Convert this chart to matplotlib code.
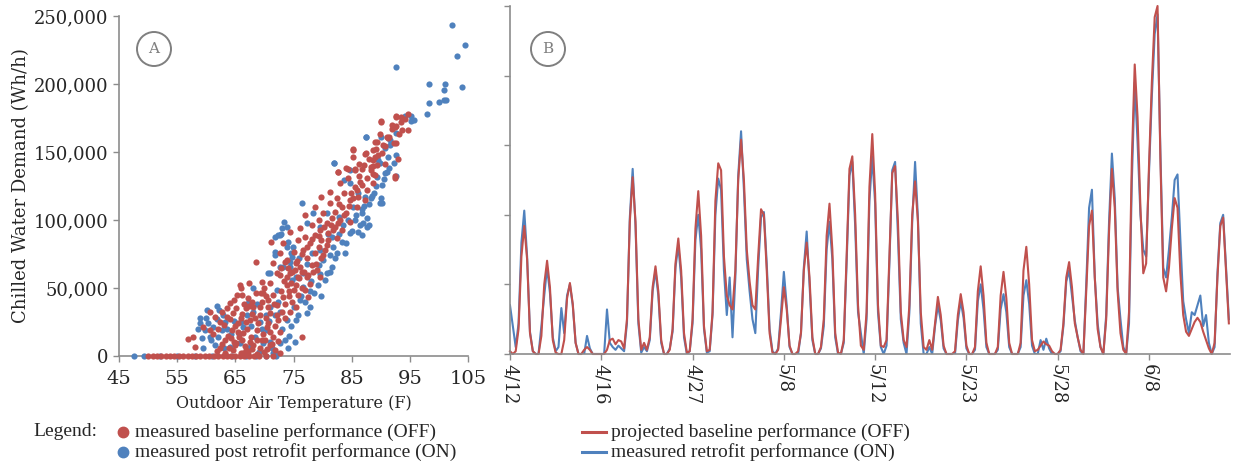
import numpy as np
import matplotlib
matplotlib.use("Agg")
import matplotlib.pyplot as plt
from matplotlib.lines import Line2D
from matplotlib.patches import Ellipse
from matplotlib.ticker import FuncFormatter

# ---------------- data ----------------
# panel A: (outdoor air temp F, chilled water demand in kWh/h)
red_pts = [
    # zero line
    (50, 0), (50.8, 0), (51.5, 0), (52.3, 0), (53, 0), (53.8, 0), (54.5, 0), (55.3, 0),
    (56, 0), (56.8, 0), (57.5, 0), (58.3, 0), (59, 0), (59.8, 0), (60.5, 0), (61.3, 0),
    (62, 0), (62.8, 0), (63.5, 0), (64.3, 0), (65, 0), (65.8, 0), (66.5, 0), (67.3, 0),
    (68.2, 0), (69, 0), (70.3, 0), (71.5, 0),
    # lower cluster
    (68.5, 69.3), (65.8, 52.2), (67.4, 53.9), (69.5, 54.6), (64.1, 38.8), (62.7, 32.6),
    (67.2, 42.4), (66.1, 44.9), (57.8, 14.2), (56.9, 12.2), (58.1, 6.4), (60.6, 19.1),
    (62.4, 25.2), (63.5, 28.9), (64.6, 31.3), (66.9, 35), (69.2, 36.3), (65.5, 24),
    (67.5, 26.5), (71, 31.3), (64.4, 19.1), (66.4, 16.6), (68.7, 19.1), (70.4, 21.6),
    (63.2, 11.8), (65.2, 9.3), (67.5, 10.5), (69.5, 11.8), (71.5, 14.2), (62.4, 5.6),
    (64.6, 4.4), (66.9, 4.4), (69.2, 5.6), (71.8, 4.4), (66.4, 2), (68.7, 1.5),
    (72.4, 26.5), (72.1, 37.5), (73.2, 43.6), (71.5, 44.9), (73.8, 52.2), (75, 48.5),
    (76.4, 14.2), (72.7, 17.9), (74.4, 32.6), (75.5, 36.3), (70.7, 41.2), (69.8, 46.1),
    (60.6, 32.6), (59.5, 21.6), (61.5, 28.9), (71, 53.4), (72.1, 60.8), (73.5, 69.3),
    (76.1, 65.7), (77.3, 58.3), (77, 48.5), (77.5, 43.6),
    (63.8, 15), (64.9, 22), (65.9, 28), (66.2, 12), (67, 20), (67.8, 31), (68.1, 8),
    (68.9, 24), (69.8, 16), (70.2, 28), (70.9, 8), (65.1, 35), (66.5, 38), (67.9, 40),
    (68.5, 46), (63.9, 6), (65.6, 14), (67.2, 3), (69.9, 3), (70.6, 36), (71.8, 22),
    (72.3, 11), (73, 32), (73.6, 38), (74.2, 44), (74.8, 40), (73.5, 28), (72.9, 48),
    (70, 50), (68, 36), (62, 20), (61.2, 16), (63, 23), (64, 27), (65.3, 45), (66, 50),
    (69.2, 30), (70.5, 5), (71, 18), (72.6, 2), (67.7, 14), (66.7, 7), (64.8, 10),
    (73.9, 58), (74.6, 54), (75.4, 52), (76, 57), (76.8, 62), (75.2, 63), (74, 65), (72.8, 65),
    (63.3, 2), (64.2, 13), (65.4, 18), (66.1, 31), (66.8, 25), (67.4, 37), (68.3, 28),
    (68.8, 12), (69.5, 40), (70.1, 12), (70.7, 24), (71.3, 9), (71.6, 38), (72.2, 30),
    (63.6, 35), (64.7, 41), (65, 8), (66, 2), (67.9, 5), (69.4, 46), (70.3, 44), (62.7, 9),
    (61.8, 4), (74.3, 48), (75.7, 45), (76.5, 50), (77.8, 53), (73.3, 55), (74.7, 62),
    # main band
    (92.7, 176.5), (90.0, 172.3), (92.4, 168.2), (91.0, 161.3), (89.3, 157.6), (92.2, 156.4),
    (85.3, 151.5), (87.5, 149), (90.2, 149), (88.7, 144), (89.3, 140.4), (84.1, 138),
    (82.7, 135.5), (85.6, 136.8), (87.1, 140.4), (88.4, 136.8), (89, 133), (92.4, 130.6),
    (84.4, 130.6), (86.4, 128.2), (88.7, 127), (83.0, 127), (85.6, 124.5), (87.6, 122),
    (81.3, 120.8), (83.6, 119.6), (86.1, 117.1), (79.8, 117.1), (82.4, 115.9), (84.7, 114.7),
    (87.3, 114.7), (81.3, 112.3), (78.7, 109.8), (83.3, 109.8), (85.9, 109.8), (82.1, 106.1),
    (80.1, 104.9), (84.1, 104.9), (77, 103.7), (81.6, 101.2), (83, 100), (79.3, 100),
    (84.7, 98.8), (80.7, 97.6), (78.1, 96.3), (82.1, 95.1), (79.6, 92.6), (83.3, 92.6),
    (76.1, 93.9), (74.4, 91.4), (81, 90.2), (78.7, 89), (77, 87.7), (79.8, 85.3),
    (75.8, 85.3), (82.4, 86.5), (77.8, 82.8), (73.2, 82.8), (79.3, 80.4), (80.7, 81.6),
    (71.2, 84), (76.7, 77.9), (75, 76.7), (78.7, 75.4), (72.7, 75.4), (80.1, 74.3),
    (77.3, 71.8), (73.8, 70.6), (75.5, 68.2), (78.1, 66.9), (71.5, 68.2), (79, 63.2),
    (76.4, 62), (74.4, 60.8), (77.5, 59.6), (72.7, 59.6), (75.8, 58.3), (79.6, 58.3),
    (78.4, 62), (78.9, 68), (79.7, 72), (80.4, 78), (81, 85), (81.8, 93), (82.6, 98),
    (83.7, 104), (84.5, 110), (85.3, 116), (86, 122), (86.7, 126), (87.7, 131), (88.3, 139),
    (89.6, 148), (90.4, 155), (91.3, 160), (91.9, 170), (93.6, 166), (94.2, 174), (79.4, 88),
    (80.2, 95), (81.4, 96), (82.9, 112), (84.9, 120), (86.3, 132), (88, 145), (89.1, 152),
    (77.3, 80), (78.2, 86), (76.5, 75), (75.6, 70),
    # upper end
    (94.6, 178.2), (93.4, 176), (92.7, 176), (90, 172.8), (93.4, 172), (92.6, 169),
    (94.6, 166), (92, 166.7), (93.1, 163.2), (89.9, 163.4), (91.5, 161.3), (89.0, 157.4),
    (92.7, 156.9), (90.7, 154.4), (85.3, 152), (88.7, 151.5), (87.3, 148.5), (93.0, 145),
    (85.2, 146.5), (89, 146.5), (86.3, 141), (88.7, 140), (82.7, 135.5), (84.3, 137.2),
    (85.6, 137.2), (86.8, 137.5), (90.7, 141), (88.6, 133.6), (92.4, 132),
]

blue_pts = [
    (47.5, 0), (49.3, 0), (52, 0), (55, 0), (58, 0), (61, 0), (64.5, 0), (66.8, 0),
    (68.5, 0), (70.2, 0), (72, 0),
    # lower cluster
    (72.4, 89), (74.1, 84), (71.8, 74.3), (74.4, 69.3), (70.7, 60.8), (72.7, 65.7),
    (60.1, 33.8), (61.8, 36.8), (58.9, 27.7), (59.8, 19.1), (59.2, 13), (60.6, 14.2),
    (59.5, 5.6), (61.2, 21.6), (62.7, 19.1), (63.2, 25.2), (64.1, 6.8), (66.4, 21.6),
    (68.1, 32.6), (69.2, 25.2), (71, 36.3), (72.7, 32.6), (73.8, 26.5), (75, 36.3),
    (76.1, 41.2), (75.5, 26.5), (72.7, 9.3), (74.1, 5.6), (71.5, 2), (69.8, 9.3),
    (67.5, 6.8), (65.8, 9.3), (70.4, 19.1), (77.3, 31.3), (76.7, 51), (74.7, 55.9),
    (72.1, 48.5), (68.1, 49.7), (67.2, 38.8),
    (58.5, 20), (59, 24), (60, 28), (60.8, 12), (61.5, 8), (62.2, 34), (62, 14),
    (63.6, 20), (64.8, 26), (65.7, 16), (67, 30), (68.4, 14), (69.5, 20), (70.8, 26),
    (71.8, 30), (73, 20), (73.5, 12), (74.6, 22), (75.8, 30), (76.9, 40), (77.8, 36),
    (78.5, 46), (79.2, 52), (79.8, 44), (80.5, 56), (81.2, 62), (78, 55), (77.4, 68),
    (76, 72), (74.9, 80), (73.9, 95), (72.8, 90), (74.5, 76), (72, 2), (70.9, 10), (69, 3),
    (79.6, 60), (77.9, 48), (76.3, 44), (75.4, 58), (72.3, 40), (70.3, 30), (68.8, 38),
    (67.7, 22), (66, 25), (64.3, 16), (63.1, 6), (60.3, 24), (61.9, 27), (62.9, 30),
    (74.2, 15), (75.2, 10), (71.3, 6),
    # main band
    (92.7, 163.7), (87.5, 161.3), (91.6, 158.8), (90.7, 152.7), (92.7, 147.8), (82, 141.7),
    (89.9, 141.7), (91, 135.5), (89.3, 131.8), (83.6, 129.4), (84.7, 127), (87.3, 117.1),
    (88.4, 115.9), (89.9, 112.3), (76.4, 112.3), (86.1, 119.6), (85.3, 109.8), (86.7, 104.9),
    (87.6, 101.2), (86.4, 96.3), (84.7, 90.2), (86.1, 91.4), (83.3, 84), (84.1, 82.8),
    (80.7, 104.9), (81.6, 87.7), (82.4, 75.4), (81.3, 74.3), (80.1, 70.6), (73.4, 98.8),
    (71.8, 87.7), (72.6, 89), (73, 93.9), (73.8, 80.4), (74.7, 73), (71.8, 76.7),
    (73.2, 65.7), (77.3, 97.6), (78.4, 104.9), (79.6, 95.1), (78.1, 75.4), (79.3, 66.9),
    (80.7, 60.8), (71, 60.8), (74.4, 65.7), (76.7, 60.8), (81.6, 65.7),
    (85.5, 100), (86.8, 108), (88, 112), (88.8, 120), (87.9, 96), (89.2, 125), (90.5, 130),
    (91.5, 138), (90, 116), (85, 92), (83.5, 96), (82.8, 102), (81.8, 80), (80.9, 90),
    (79.5, 78), (90.2, 112.2), (87.6, 95), (87, 98),
    (82.9, 90), (84.3, 100), (85.8, 104), (87.2, 110), (88.5, 118), (90.3, 126), (91.3, 146),
    (83.8, 76), (82.2, 72), (86.8, 89),
    # upper end
    (92.2, 141.7), (90.1, 161.3), (91.6, 155), (89.6, 144), (90.7, 134.3), (92.7, 132.4),
    (84.7, 136.8), (95.2, 173), (94.2, 176.5), (95.2, 176.5), (95.8, 173.3), (87.5, 161),
    (82.0, 141.7), (98.0, 178.2), (98.3, 186.3), (100.1, 186.8), (100.8, 188.5),
    (101.3, 188), (98.3, 199.8), (101.0, 200), (100.8, 195.6), (104, 197.8), (92.7, 212.5),
    (103.1, 220.8), (104.5, 228.4), (102.3, 243.6),
]

# panel B: 3-hourly chilled water demand, kWh/h
baseline_proj = [
    2, 0, 2, 18, 70, 92, 68, 15, 2, 0, 0, 13, 50, 67, 48, 10,
    1, 0, 0, 10, 40, 51, 36, 8, 0, 0, 3, 5, 3, 0, 0, 0,
    0, 0, 3, 10, 11, 7, 10, 9, 4, 25, 95, 127, 95, 25, 3, 8,
    3, 12, 48, 63, 45, 10, 0, 0, 3, 18, 65, 83, 60, 15, 1, 2,
    25, 90, 117, 85, 20, 2, 3, 30, 110, 137, 132, 70, 42, 35, 32, 60,
    125, 154, 125, 75, 52, 35, 32, 70, 104, 100, 60, 15, 1, 0, 3, 25,
    48, 32, 6, 0, 0, 2, 15, 60, 80, 55, 12, 0, 0, 5, 25, 85,
    108, 75, 15, 1, 0, 10, 70, 133, 142, 100, 35, 6, 3, 30, 120, 158,
    115, 35, 6, 5, 10, 70, 130, 135, 95, 30, 10, 5, 35, 100, 124, 95,
    30, 5, 3, 10, 3, 22, 41, 28, 6, 0, 0, 0, 2, 28, 43, 30,
    6, 0, 0, 5, 45, 63, 42, 8, 0, 0, 0, 5, 42, 59, 40, 8,
    0, 0, 0, 8, 60, 77, 50, 10, 2, 3, 6, 9, 7, 6, 2, 0,
    0, 3, 22, 55, 66, 48, 22, 12, 3, 0, 45, 92, 103, 55, 18, 5,
    0, 25, 88, 133, 105, 45, 15, 3, 0, 30, 140, 208, 170, 105, 58, 65,
    135, 195, 242, 250, 140, 55, 45, 62, 90, 112, 105, 58, 28, 16, 13, 18,
    23, 26, 23, 16, 10, 4, 0, 8, 55, 92, 98, 60, 22,
]
retrofit_meas = [
    35, 20, 5, 22, 80, 103, 70, 16, 2, 0, 0, 20, 42, 62, 44, 12,
    2, 5, 33, 15, 42, 50, 35, 8, 0, 0, 0, 13, 4, 0, 0, 0,
    0, 0, 32, 8, 5, 3, 6, 4, 2, 22, 98, 133, 92, 22, 1, 5,
    2, 10, 45, 60, 42, 8, 0, 0, 4, 16, 62, 78, 55, 12, 0, 2,
    22, 82, 100, 75, 18, 1, 2, 28, 100, 126, 118, 60, 28, 55, 12, 55,
    128, 160, 118, 68, 45, 25, 15, 62, 98, 102, 65, 18, 2, 0, 4, 30,
    59, 35, 5, 0, 0, 0, 15, 62, 88, 50, 10, 0, 0, 4, 20, 75,
    95, 68, 12, 0, 0, 8, 65, 128, 138, 92, 30, 15, 0, 25, 110, 142,
    108, 30, 5, 0, 6, 65, 132, 138, 85, 25, 8, 0, 30, 95, 138, 98,
    22, 0, 0, 5, 0, 20, 35, 24, 4, 0, 0, 0, 0, 24, 38, 26,
    4, 0, 0, 3, 38, 50, 32, 5, 0, 0, 0, 3, 32, 43, 30, 5,
    0, 0, 0, 5, 42, 53, 36, 6, 0, 0, 10, 3, 11, 4, 0, 0,
    0, 2, 20, 52, 60, 42, 24, 12, 2, 0, 50, 105, 118, 55, 22, 5,
    0, 28, 95, 144, 112, 48, 25, 5, 0, 22, 125, 195, 152, 100, 75, 70,
    130, 185, 230, 244, 145, 62, 55, 75, 98, 125, 129, 82, 38, 25, 15, 30,
    28, 35, 42, 20, 28, 8, 0, 5, 58, 94, 100, 62, 25,
]
date_labels = ["4/12", "4/16", "4/27", "5/8", "5/12", "5/23", "5/28", "6/8"]
samples_per_label = 32

RED = "#C0504D"
BLUE = "#4F81BD"
SPINE = "#8C8C8C"
TXT = "#262626"

plt.rcParams["font.family"] = ["DejaVu Serif"]

fig = plt.figure(figsize=(12.36, 4.68), dpi=100)
W, H = 1236, 468


def px_axes(l, t, r, b):
    return fig.add_axes([l / W, 1 - b / H, (r - l) / W, (b - t) / H])


# ---------------- panel A ----------------
axA = px_axes(119, 16, 468, 356)
bx, by = zip(*blue_pts)
rx, ry = zip(*red_pts)
axA.scatter(bx, np.array(by) * 1000, s=20, color=BLUE, linewidths=0, clip_on=False, zorder=3)
axA.scatter(rx, np.array(ry) * 1000, s=20, color=RED, linewidths=0, clip_on=False, zorder=3)
axA.set_xlim(45, 105)
axA.set_ylim(0, 250000)
axA.set_xticks(range(45, 106, 10))
axA.set_yticks(range(0, 250001, 50000))
axA.yaxis.set_major_formatter(FuncFormatter(lambda v, p: f"{v:,.0f}"))
axA.set_xlabel("Outdoor Air Temperature (F)", fontsize=11.5, color=TXT, labelpad=5)
axA.set_ylabel("Chilled Water Demand (Wh/h)", fontsize=13, color=TXT)
axA.yaxis.set_label_coords(-0.254, 0.5)

# ---------------- panel B ----------------
axB = px_axes(510, 6, 1230, 354)
t = np.arange(len(baseline_proj))
axB.plot(np.arange(len(retrofit_meas)), np.array(retrofit_meas) * 1000, color=BLUE, lw=1.5)
axB.plot(t, np.array(baseline_proj) * 1000, color=RED, lw=1.5, clip_on=False)
axB.set_xlim(0, 252.4)
axB.set_ylim(0, 250000)
axB.set_xticks(np.arange(len(date_labels)) * samples_per_label)
axB.set_xticklabels(date_labels, rotation=270)
axB.set_yticks(range(0, 250001, 50000))
axB.set_yticklabels([])

for ax in (axA, axB):
    for s in ("top", "right"):
        ax.spines[s].set_visible(False)
    for s in ("left", "bottom"):
        ax.spines[s].set_color(SPINE)
        ax.spines[s].set_linewidth(1.2)
    ax.tick_params(color=SPINE, length=4, width=1, labelcolor=TXT, labelsize=13)
axA.tick_params(axis="x", pad=6, labelsize=14)
axB.tick_params(axis="x", pad=3)

# circled panel letters
for cx, cy, letter in [(154, 49, "A"), (548, 49, "B")]:
    fig.add_artist(Ellipse((cx / W, 1 - cy / H), 34 / W, 34 / H, transform=fig.transFigure,
                           fill=False, ec="#7F7F7F", lw=1.4))
    fig.text(cx / W, 1 - cy / H, letter, ha="center", va="center", fontsize=11, color="#7F7F7F")

# ---------------- legend ----------------
lf = dict(fontsize=14, color=TXT, va="center", family=["Liberation Serif"])
fig.text(33 / W, 1 - 432 / H, "Legend:", **lf)
rows = [
    (432, RED, "measured baseline performance (OFF)", "projected baseline performance (OFF)"),
    (452, BLUE, "measured post retrofit performance (ON)", "measured retrofit performance (ON)"),
]
for y, c, left_txt, right_txt in rows:
    yf = 1 - y / H
    fig.add_artist(Line2D([123 / W], [yf], marker="o", markersize=7.5, color=c,
                          transform=fig.transFigure, lw=0))
    fig.text(135 / W, yf, left_txt, **lf)
    fig.add_artist(Line2D([582 / W, 606 / W], [yf, yf], color=c, lw=2.2,
                          transform=fig.transFigure))
    fig.text(611 / W, yf, right_txt, **lf)

fig.savefig("out.png", dpi=100)
